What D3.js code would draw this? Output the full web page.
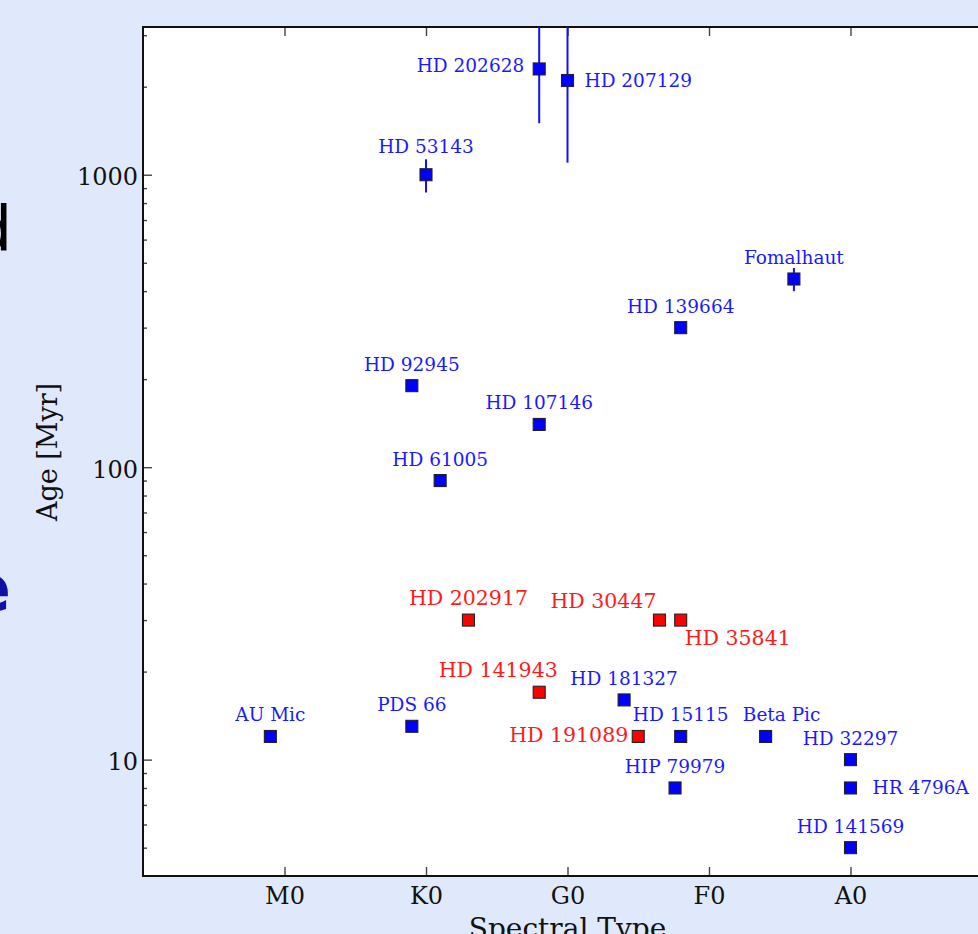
<!DOCTYPE html>
<html>
<head>
<meta charset="utf-8">
<script src="https://cdn.jsdelivr.net/npm/d3@7"></script>
<style>
  html, body { margin: 0; padding: 0; background: #e0e8fb; overflow: hidden; }
  svg { display: block; }
</style>
</head>
<body>
<div id="chart"></div>
<script>
// Debris disk host stars: spectral type vs age.
const starNames = ['AU Mic', 'PDS 66', 'HD 92945', 'HD 61005', 'HD 53143', 'HD 202917',
  'HD 141943', 'HD 107146', 'HD 202628', 'HD 207129', 'HD 181327', 'HD 191089',
  'HD 30447', 'HD 35841', 'HD 15115', 'HD 139664', 'HIP 79979', 'Beta Pic',
  'Fomalhaut', 'HD 32297', 'HR 4796A', 'HD 141569'];
const spectralTypes = ['M1', 'K1', 'K1', 'G9', 'K0', 'G7',
  'G2', 'G2', 'G2', 'G0', 'F6', 'F5',
  'F3.5', 'F2', 'F2', 'F2', 'F2.4', 'A6',
  'A4', 'A0', 'A0', 'A0'];
const ages = [12, 13, 190, 90, 1000, 30,
  17, 140, 2300, 2100, 16, 12,
  30, 30, 12, 300, 8, 12,
  440, 10, 8, 5];
const ageLow = [null, null, null, null, 870, null,
  null, null, 1500, 1100, null, null,
  null, null, null, null, null, null,
  400, null, null, null];
const ageHigh = [null, null, null, null, 1130, null,
  null, null, 4000, 4000, null, null,
  null, null, null, null, null, null,
  480, null, null, null];
// 1 = red group
const redGroup = [0, 0, 0, 0, 0, 1,
  1, 0, 0, 0, 0, 1,
  1, 1, 0, 0, 0, 0,
  0, 0, 0, 0];

const xTickLabels = ['M0', 'K0', 'G0', 'F0', 'A0'];
const yTickValues = [10, 100, 1000];
const yMinorTicks = [5, 6, 7, 8, 9, 20, 30, 40, 50, 60, 70, 80, 90,
  200, 300, 400, 500, 600, 700, 800, 900, 2000, 3000];

// spectral type -> number (M0 = 0, K0 = 10, ... A0 = 40, later subclasses go left)
const classOrder = 'MKGFA';
const specNum = (s) => classOrder.indexOf(s[0]) * 10 - parseFloat(s.slice(1));

const W = 978, H = 934;
const plot = {left: 143, right: 992, top: 27, bottom: 876};
const font = '"DejaVu Serif", serif';

const svg = d3.select('#chart').append('svg')
    .attr('width', W)
    .attr('height', H);

svg.append('rect')
    .attr('width', W)
    .attr('height', H)
    .attr('fill', '#e0e8fb');

// Clipped letters from the slide behind the figure.
svg.append('text')
    .attr('x', 12).attr('y', 250)
    .attr('text-anchor', 'end')
    .style('font-family', '"DejaVu Sans", sans-serif')
    .style('font-size', '62px')
    .attr('fill', '#000')
    .text('d');

svg.append('text')
    .attr('x', 11).attr('y', 611)
    .attr('text-anchor', 'end')
    .style('font-family', '"DejaVu Sans", sans-serif')
    .style('font-weight', 'bold')
    .style('font-size', '66px')
    .attr('fill', '#1010a8')
    .text('e');

svg.append('rect')
    .attr('x', plot.left).attr('y', plot.top)
    .attr('width', plot.right - plot.left)
    .attr('height', plot.bottom - plot.top)
    .attr('fill', '#fff');

let x = d3.scaleLinear()
    .domain([-10, 50])
    .range([plot.left, plot.right]);

let y = d3.scaleLog()
    .domain([4, 3200])
    .range([plot.bottom, plot.top]);

const styleAxis = (g) => {
  g.select('.domain').remove();
  g.selectAll('.tick line').attr('stroke', '#444').attr('stroke-width', 1.4);
  g.selectAll('.tick text')
      .attr('fill', '#111')
      .style('font-family', font)
      .style('font-size', '24px');
};

// y axis, major + minor ticks pointing inward
svg.append('g')
    .attr('transform', 'translate(' + plot.left + ',0)')
    .call(d3.axisLeft(y).tickValues(yTickValues).tickFormat(d3.format('d'))
        .tickSize(-9).tickPadding(5))
    .call(styleAxis)
    .call((g) => g.selectAll('.tick text').attr('dy', '0.42em'));

svg.append('g')
    .attr('transform', 'translate(' + plot.left + ',0)')
    .call(d3.axisLeft(y).tickValues(yMinorTicks).tickFormat('').tickSize(-4))
    .call(styleAxis);

// x axis
const xTicks = xTickLabels.map(specNum);

svg.append('g')
    .attr('transform', 'translate(0,' + plot.bottom + ')')
    .call(d3.axisBottom(x).tickValues(xTicks)
        .tickFormat((d, i) => xTickLabels[i]).tickSize(-9).tickPadding(10))
    .call(styleAxis)
    .call((g) => g.selectAll('.tick text').attr('dy', '0.75em'));

svg.append('g')
    .attr('transform', 'translate(0,' + plot.top + ')')
    .call(d3.axisTop(x).tickValues(xTicks).tickFormat('').tickSize(-9))
    .call(styleAxis);

// frame
svg.append('rect')
    .attr('x', plot.left).attr('y', plot.top)
    .attr('width', plot.right - plot.left)
    .attr('height', plot.bottom - plot.top)
    .attr('fill', 'none')
    .attr('stroke', '#111')
    .attr('stroke-width', 2);

// axis titles
svg.append('text')
    .attr('transform', 'translate(57,452) rotate(-90)')
    .attr('text-anchor', 'middle')
    .style('font-family', font)
    .style('font-size', '27px')
    .attr('fill', '#111')
    .text('Age [Myr]');

svg.append('text')
    .attr('x', (plot.left + plot.right) / 2)
    .attr('y', 938)
    .attr('text-anchor', 'middle')
    .style('font-family', font)
    .style('font-size', '28px')
    .attr('fill', '#111')
    .text('Spectral Type');

// data points
svg.append('clipPath').attr('id', 'plot-clip')
    .append('rect')
    .attr('x', plot.left).attr('y', plot.top)
    .attr('width', plot.right - plot.left)
    .attr('height', plot.bottom - plot.top);

const stars = starNames.map((name, i) => ({
  name: name,
  spec: specNum(spectralTypes[i]),
  age: ages[i],
  lo: ageLow[i],
  hi: ageHigh[i],
  red: redGroup[i] === 1
}));

const layer = svg.append('g').attr('clip-path', 'url(#plot-clip)');

layer.selectAll('line.err')
    .data(stars.filter((d) => d.lo !== null))
    .enter()
    .append('line')
    .attr('class', 'err')
    .attr('x1', (d) => x(d.spec))
    .attr('x2', (d) => x(d.spec))
    .attr('y1', (d) => y(d.lo))
    .attr('y2', (d) => y(d.hi))
    .attr('stroke', '#1010ff')
    .attr('stroke-width', 2);

const size = 12;
layer.selectAll('rect.pt')
    .data(stars)
    .enter()
    .append('rect')
    .attr('class', 'pt')
    .attr('x', (d) => x(d.spec) - size / 2)
    .attr('y', (d) => y(d.age) - size / 2)
    .attr('width', size)
    .attr('height', size)
    .attr('fill', (d) => d.red ? '#ff0000' : '#0000ff')
    .attr('stroke', '#222')
    .attr('stroke-width', 1.1);

// label placement: [anchor, dx, dy]
const labelOffsets = {
  'HD 202628': ['end', -15, 3],
  'HD 207129': ['start', 17, 7],
  'HD 53143': ['middle', 0, -22],
  'HD 30447': ['end', -3, -12],
  'HD 35841': ['start', 4, 25],
  'HD 141943': ['middle', -41, -15],
  'Beta Pic': ['middle', 16, -15],
  'HD 191089': ['end', -10, 6],
  'HR 4796A': ['start', 22, 6]
};

svg.selectAll('text.lbl')
    .data(stars)
    .enter()
    .append('text')
    .attr('class', 'lbl')
    .each(function(d) {
      const o = labelOffsets[d.name] || ['middle', 0, -15];
      d3.select(this)
          .attr('text-anchor', o[0])
          .attr('x', x(d.spec) + o[1])
          .attr('y', y(d.age) + o[2]);
    })
    .style('font-family', font)
    .style('font-size', (d) => d.red ? '20.5px' : '18.5px')
    .attr('fill', (d) => d.red ? '#ff1a1a' : '#1a1aff')
    .text((d) => d.name);
</script>
</body>
</html>
